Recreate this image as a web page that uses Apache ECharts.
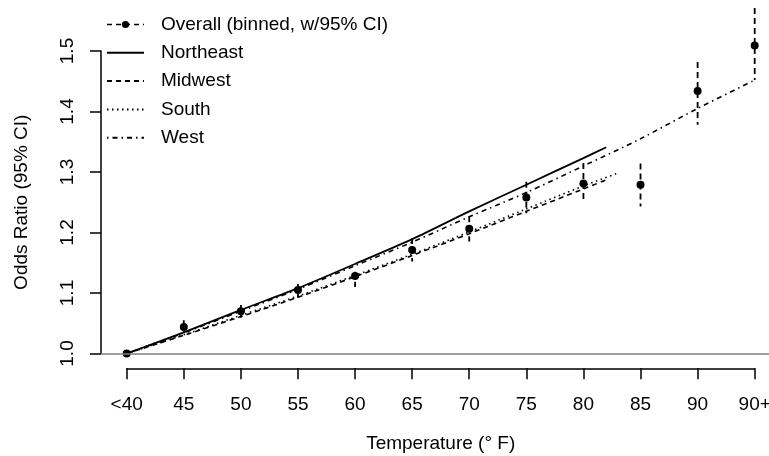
<!DOCTYPE html>
<html>
<head>
<meta charset="utf-8">
<script src="https://cdn.jsdelivr.net/npm/echarts@6/dist/echarts.min.js"></script>
<style>
html,body{margin:0;padding:0;background:#fff;}
#chart{width:769px;height:456px;}
</style>
</head>
<body>
<div id="chart"></div>
<script>
// ---- data ----
const tickTemps  = [40, 45, 50, 55, 60, 65, 70, 75, 80, 85, 90, 95];
const tickLabels = ["<40", "45", "50", "55", "60", "65", "70", "75", "80", "85", "90", "90+"];

const overallOR = [1.000, 1.044, 1.070, 1.105, 1.128, 1.171, 1.206, 1.258, 1.281, 1.279, 1.434, 1.509];
const overallLo = [null, 1.036, 1.059, 1.092, 1.110, 1.152, 1.185, 1.232, 1.254, 1.243, 1.378, 1.452];
const overallHi = [null, 1.055, 1.080, 1.115, 1.135, 1.191, 1.227, 1.284, 1.315, 1.314, 1.482, 1.571];

const northeastTemps = [40, 45, 50, 55, 60, 65, 70, 75, 80, 82];
const northeastOR    = [1.000, 1.035, 1.072, 1.108, 1.148, 1.189, 1.235, 1.279, 1.323, 1.341];
const midwestTemps   = [40, 45, 50, 55, 60, 65, 70, 75, 80, 82];
const midwestOR      = [1.000, 1.030, 1.061, 1.093, 1.127, 1.162, 1.198, 1.235, 1.272, 1.287];
const southTemps     = [40, 45, 50, 55, 60, 65, 70, 75, 80, 83];
const southOR        = [1.000, 1.031, 1.063, 1.095, 1.129, 1.164, 1.201, 1.239, 1.277, 1.298];
const westTemps      = [40, 45, 50, 55, 60, 65, 70, 75, 80, 85, 90, 95];
const westOR         = [1.000, 1.034, 1.070, 1.106, 1.145, 1.184, 1.226, 1.266, 1.310, 1.355, 1.405, 1.452];

const yTicks = [1.0, 1.1, 1.2, 1.3, 1.4, 1.5];
const overallName = "Overall (binned, w/95% CI)";

// ---- layout ----
const FONT = "'Liberation Sans', Arial, Helvetica, sans-serif";
const FS = 19;
const pxPerUnit = 605;      // pixels per 1.0 odds ratio
const yOne = 353.5;         // pixel y of OR = 1.0
const gTop = 5, gBottom = 368.3;
const yMin = 1 - (gBottom - yOne) / pxPerUnit;
const yMax = 1 + (yOne - gTop) / pxPerUnit;

const zip = (xs, ys) => xs.map((x, i) => [x, ys[i]]);
const errData = tickTemps.map((t, i) => [t, overallLo[i], overallHi[i]]).filter(d => d[1] != null);

const chart = echarts.init(document.getElementById('chart'), null, {renderer: 'canvas'});

const noSym = {opacity: 0};
const gridBase = {containLabel: false, outerBoundsMode: 'none'};
const option = {
  animation: false,
  backgroundColor: '#fff',
  textStyle: {fontFamily: FONT, color: '#000'},
  grid: [
    Object.assign({left: 126.7, width: 628, top: gTop, height: gBottom - gTop}, gridBase),
    Object.assign({left: 101, right: 0, top: gTop, height: gBottom - gTop}, gridBase),
    Object.assign({left: 101, width: 10, top: yOne - 0.5 * pxPerUnit, height: 0.5 * pxPerUnit}, gridBase)
  ],
  xAxis: [
    {
      gridIndex: 0, type: 'value', min: tickTemps[0], max: tickTemps[tickTemps.length - 1], interval: 5,
      splitLine: {show: false},
      axisLine: {show: true, onZero: false, lineStyle: {color: '#000', width: 1.5}},
      axisTick: {show: true, length: 11, lineStyle: {color: '#000', width: 1.5}},
      axisLabel: {
        margin: 27, fontSize: FS, color: '#000', fontFamily: FONT,
        formatter: v => { const i = tickTemps.indexOf(v); return i >= 0 ? tickLabels[i] : ''; }
      },
      name: 'Temperature (° F)', nameLocation: 'middle', nameGap: 66,
      nameTextStyle: {fontSize: FS, color: '#000', fontFamily: FONT}
    },
    {gridIndex: 1, type: 'value', min: 0, max: 1, show: false},
    {gridIndex: 2, type: 'value', min: 0, max: 1, show: false}
  ],
  yAxis: [
    {gridIndex: 0, type: 'value', min: yMin, max: yMax, show: false},
    {gridIndex: 1, type: 'value', min: yMin, max: yMax, show: false},
    {
      gridIndex: 2, type: 'value', min: yTicks[0], max: yTicks[yTicks.length - 1], interval: 0.1,
      splitLine: {show: false},
      axisLine: {show: true, lineStyle: {color: '#000', width: 1.5}},
      axisTick: {show: true, length: 11, lineStyle: {color: '#000', width: 1.5}},
      axisLabel: {
        rotate: 90, margin: 24, fontSize: FS, color: '#000', fontFamily: FONT,
        formatter: v => v.toFixed(1)
      },
      name: 'Odds Ratio (95% CI)', nameLocation: 'middle', nameGap: 70, nameRotate: 90,
      nameTextStyle: {fontSize: FS, color: '#000', fontFamily: FONT}
    }
  ],
  legend: {
    orient: 'vertical', left: 106, top: 15, padding: 0, itemWidth: 37, itemHeight: 9, itemGap: 9.3,
    selectedMode: false,
    textStyle: {fontSize: FS, color: '#000', fontFamily: FONT, padding: [0, 0, 0, 12]},
    data: [
      {name: overallName, lineStyle: {opacity: 1, width: 1.6, type: [5, 4], color: '#000'}},
      {name: 'Northeast', itemStyle: noSym},
      {name: 'Midwest', itemStyle: noSym},
      {name: 'South', itemStyle: noSym},
      {name: 'West', itemStyle: noSym}
    ]
  },
  series: [
    {
      name: 'ref', type: 'line', xAxisIndex: 1, yAxisIndex: 1, data: [], silent: true,
      markLine: {
        silent: true, symbol: 'none', label: {show: false},
        lineStyle: {color: '#808080', type: 'solid', width: 1.5},
        data: [{yAxis: 1}]
      }
    },
    {
      name: 'Northeast', type: 'line', data: zip(northeastTemps, northeastOR), smooth: 0.3,
      symbol: 'none', lineStyle: {color: '#000', width: 1.8, type: 'solid'}, itemStyle: {color: '#000'}
    },
    {
      name: 'Midwest', type: 'line', data: zip(midwestTemps, midwestOR), smooth: 0.3,
      symbol: 'none', lineStyle: {color: '#000', width: 1.6, type: [5, 4]}, itemStyle: {color: '#000'}
    },
    {
      name: 'South', type: 'line', data: zip(southTemps, southOR), smooth: 0.3,
      symbol: 'none', lineStyle: {color: '#000', width: 1.6, type: [1.5, 3.5]}, itemStyle: {color: '#000'}
    },
    {
      name: 'West', type: 'line', data: zip(westTemps, westOR), smooth: 0.3,
      symbol: 'none', lineStyle: {color: '#000', width: 1.6, type: [1.5, 4, 5, 4]}, itemStyle: {color: '#000'}
    },
    {
      name: 'errbars', type: 'custom', data: errData, silent: true,
      renderItem: (params, api) => {
        const p1 = api.coord([api.value(0), api.value(1)]);
        const p2 = api.coord([api.value(0), api.value(2)]);
        return {
          type: 'line',
          shape: {x1: p1[0], y1: p2[1], x2: p1[0], y2: p1[1]},
          style: {stroke: '#000', lineWidth: 1.8, lineDash: [6, 4]}
        };
      },
      z: 3
    },
    {
      name: overallName, type: 'line', data: zip(tickTemps, overallOR),
      symbol: 'circle', symbolSize: 8, showSymbol: true, showAllSymbol: true,
      lineStyle: {opacity: 0, color: '#000', width: 1.6, type: [5, 4]},
      itemStyle: {color: '#000'}, z: 4
    }
  ]
};
chart.setOption(option);
</script>
</body>
</html>
